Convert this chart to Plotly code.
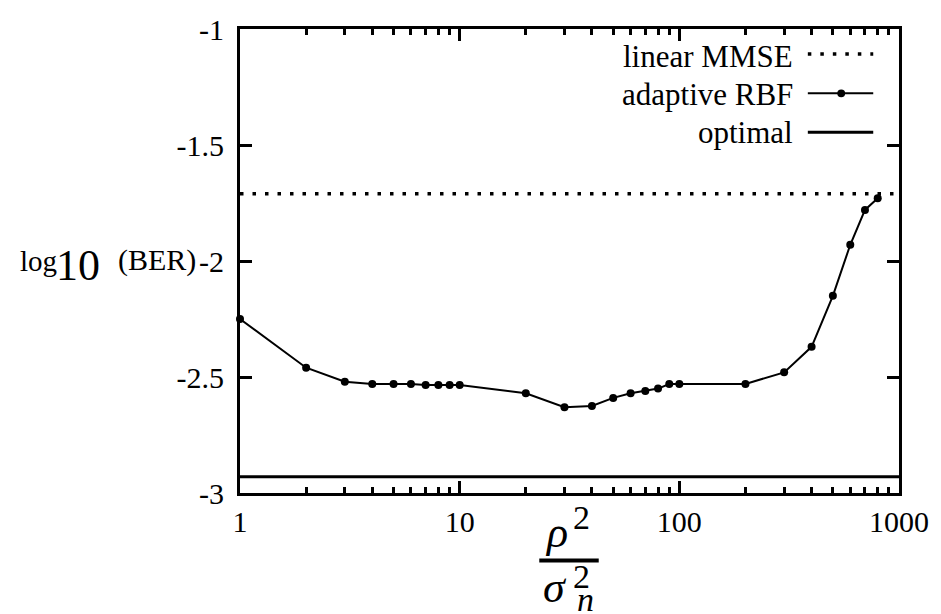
import plotly.graph_objects as go

# Signal-to-noise ratio rho^2 / sigma_n^2 (log axis)
snr = [1, 2, 3, 4, 5, 6, 7, 8, 9, 10,
       20, 30, 40, 50, 60, 70, 80, 90, 100,
       200, 300, 400, 500, 600, 700, 800]
# log10(BER) of the adaptive RBF equaliser
ber_rbf = [-2.25, -2.46, -2.52, -2.53, -2.53, -2.53, -2.535, -2.535, -2.535, -2.535,
           -2.57, -2.63, -2.625, -2.59, -2.57, -2.56, -2.55, -2.53, -2.53,
           -2.53, -2.48, -2.37, -2.15, -1.93, -1.78, -1.73]
# Reference levels
ber_mmse = -1.71
ber_optimal = -2.93

x_range = [1, 1000]
x_ticks = [1, 10, 100, 1000]
x_ticktext = ["1", "10", "100", "1000"]
x_minor = [m * 10 ** k for k in range(3) for m in range(2, 10)]
y_ticks = [-3, -2.5, -2, -1.5, -1]
y_ticktext = ["-3", "-2.5", "-2", "-1.5", "-1"]

legend_labels = ["linear MMSE", "adaptive RBF", "optimal"]

W, H = 941, 614
L, R, T, B = 240, 36, 22, 121
PW, PH = W - L - R, H - T - B
SERIF = "Liberation Serif, Times New Roman, DejaVu Serif, serif"


def paper_x(px):
    return (px - L) / PW


def paper_y(py):
    return (H - B - py) / PH


fig = go.Figure()

fig.add_trace(go.Scatter(
    x=x_range, y=[ber_mmse, ber_mmse], mode="lines",
    line=dict(color="black", width=3.5, dash="3.5px,9px"),
    showlegend=False, hoverinfo="skip"))
fig.add_trace(go.Scatter(
    x=x_range, y=[ber_optimal, ber_optimal], mode="lines",
    line=dict(color="black", width=3),
    showlegend=False, hoverinfo="skip"))
fig.add_trace(go.Scatter(
    x=snr, y=ber_rbf, mode="lines+markers",
    line=dict(color="black", width=2),
    marker=dict(color="black", size=8, symbol="circle"),
    cliponaxis=False, showlegend=False))

annotations = []
shapes = []

# Legend: right-aligned labels followed by line samples
rows_y = [49.5, 88, 126.8]
sample_y = [47.3, 87.3, 126.7]
for label, ty in zip(legend_labels, rows_y):
    annotations.append(dict(
        text=label, xref="paper", yref="paper",
        x=paper_x(800), y=paper_y(ty), xanchor="right", yanchor="middle",
        showarrow=False, font=dict(family=SERIF, size=31, color="black")))
sx0, sx1 = paper_x(813), paper_x(879)
shapes.append(dict(type="line", xref="paper", yref="paper",
                   x0=sx0, x1=sx1, y0=paper_y(sample_y[0]), y1=paper_y(sample_y[0]),
                   line=dict(color="black", width=3.5, dash="3.5px,9px")))
shapes.append(dict(type="line", xref="paper", yref="paper",
                   x0=sx0, x1=sx1, y0=paper_y(sample_y[1]), y1=paper_y(sample_y[1]),
                   line=dict(color="black", width=2)))
shapes.append(dict(type="circle", xref="paper", yref="paper",
                   x0=paper_x(842.7), x1=paper_x(850.7),
                   y0=paper_y(83.3), y1=paper_y(91.3),
                   fillcolor="black", line=dict(color="black", width=0)))
shapes.append(dict(type="line", xref="paper", yref="paper",
                   x0=sx0, x1=sx1, y0=paper_y(sample_y[2]), y1=paper_y(sample_y[2]),
                   line=dict(color="black", width=3)))

# y-axis title: log10(BER)
for txt, cx, cy, size in [("log", 37, 257.5, 29),
                          ("10", 77, 262, 44),
                          ("(BER)", 156, 256.5, 30)]:
    annotations.append(dict(
        text=txt, xref="paper", yref="paper",
        x=paper_x(cx), y=paper_y(cy), xanchor="center", yanchor="middle",
        showarrow=False, font=dict(family=SERIF, size=size, color="black")))

# x-axis title: rho^2 / sigma_n^2 as a stacked fraction
for txt, cx, cy, size in [("<i>ρ</i>", 559, 532.9, 44),
                          ("2", 585, 517.5, 34),
                          ("<i>σ</i>", 558, 589.3, 44),
                          ("2", 585, 577.5, 34),
                          ("<i>n</i>", 588.5, 601, 34)]:
    annotations.append(dict(
        text=txt, xref="paper", yref="paper",
        x=paper_x(cx), y=paper_y(cy), xanchor="center", yanchor="middle",
        showarrow=False, font=dict(family=SERIF, size=size, color="black")))
shapes.append(dict(type="line", xref="paper", yref="paper",
                   x0=paper_x(542), x1=paper_x(602),
                   y0=paper_y(561.5), y1=paper_y(561.5),
                   line=dict(color="black", width=4)))

fig.update_layout(
    width=W, height=H, autosize=False,
    margin=dict(l=L, r=R, t=T, b=B, pad=0),
    paper_bgcolor="white", plot_bgcolor="white",
    annotations=annotations, shapes=shapes,
    showlegend=False,
    xaxis=dict(
        type="log", range=[0, 3],
        tickmode="array", tickvals=x_ticks, ticktext=x_ticktext,
        ticks="inside", ticklen=12, tickwidth=2.5, tickcolor="black",
        minor=dict(tickmode="array", tickvals=x_minor, ticks="inside",
                   ticklen=6, tickwidth=2.5, tickcolor="black", showgrid=False),
        showline=True, linecolor="black", linewidth=3, mirror="ticks",
        showgrid=False, zeroline=False,
        ticklabelstandoff=0,
        tickfont=dict(family=SERIF, size=30, color="black")),
    yaxis=dict(
        range=[-3, -1],
        tickmode="array", tickvals=y_ticks, ticktext=y_ticktext,
        ticks="inside", ticklen=12, tickwidth=2.5, tickcolor="black",
        showline=True, linecolor="black", linewidth=3, mirror="ticks",
        showgrid=False, zeroline=False,
        ticklabelstandoff=7,
        tickfont=dict(family=SERIF, size=30, color="black")),
)

fig.write_html("out.html")
